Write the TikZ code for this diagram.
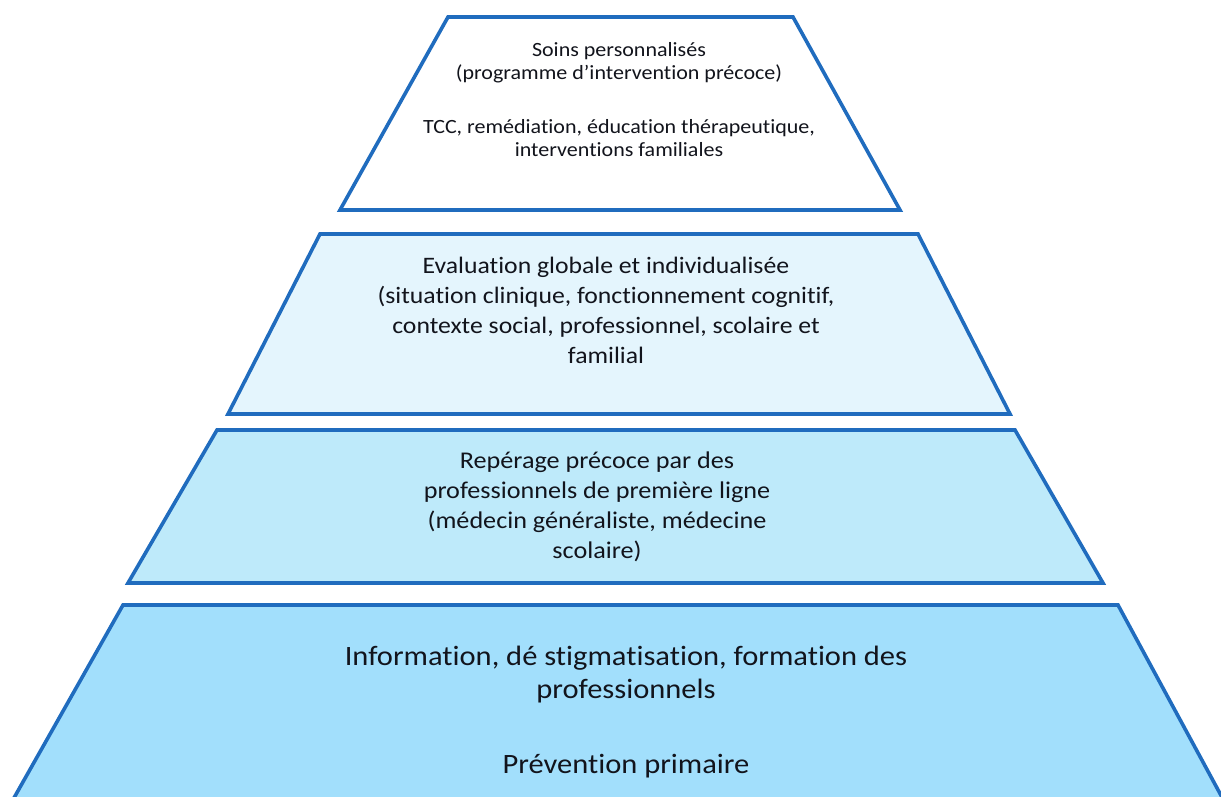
\documentclass[tikz,border=0pt]{standalone}
\usepackage{fontspec}
\setmainfont{Carlito}[Ligatures=NoCommon]
\definecolor{edge}{RGB}{32,108,190}
\definecolor{fillB}{RGB}{228,245,253}
\definecolor{fillC}{RGB}{190,234,250}
\definecolor{fillD}{RGB}{162,223,252}
\definecolor{ink}{RGB}{18,20,28}
\newcommand{\wtext}[1]{\scalebox{1.09}[1]{\begin{tabular}{@{}c@{}}#1\end{tabular}}}
\tikzset{
  tier/.style={draw=edge, line width=3.6pt, line join=miter},
  lbl/.style={align=center, text=ink, inner sep=0pt},
}
\begin{document}
\begin{tikzpicture}[x=1pt,y=-1pt]
\useasboundingbox (0,0) rectangle (1221,796);
\clip (0,0) rectangle (1221,796);
% tier 1
\coordinate (a1) at (448,17); \coordinate (a2) at (793,17);
\coordinate (a3) at (900,210); \coordinate (a4) at (340,210);
\draw[tier, fill=white] (a1) -- (a2) -- (a3) -- (a4) -- cycle;
% tier 2
\coordinate (b1) at (320,234); \coordinate (b2) at (918,234);
\coordinate (b3) at (1010,414); \coordinate (b4) at (228,414);
\draw[tier, fill=fillB] (b1) -- (b2) -- (b3) -- (b4) -- cycle;
% tier 3
\coordinate (c1) at (217,430); \coordinate (c2) at (1015,430);
\coordinate (c3) at (1103,583); \coordinate (c4) at (128,583);
\draw[tier, fill=fillC] (c1) -- (c2) -- (c3) -- (c4) -- cycle;
% tier 4
\coordinate (d1) at (123,605); \coordinate (d2) at (1118,605);
\coordinate (d3) at (1230,812); \coordinate (d4) at (6,812);
\draw[tier, fill=fillD] (d1) -- (d2) -- (d3) -- (d4) -- cycle;

\node[lbl, font=\fontsize{20.2}{23}\selectfont] (t1a) at (619,63) {\wtext{Soins personnalisés\\(programme d’intervention précoce)}};
\node[lbl, font=\fontsize{20.2}{23}\selectfont] (t1b) at (619,140) {\wtext{TCC, remédiation, éducation thérapeutique,\\interventions familiales}};
\node[lbl, font=\fontsize{23.6}{30}\selectfont] (t2) at (606,312) {\wtext{Evaluation globale et individualisée\\(situation clinique, fonctionnement cognitif,\\contexte social, professionnel, scolaire et\\familial}};
\node[lbl, font=\fontsize{24}{30}\selectfont] (t3) at (597,507) {\wtext{Repérage précoce par des\\professionnels de première ligne\\(médecin généraliste, médecine\\scolaire)}};
\node[lbl, font=\fontsize{28}{33}\selectfont] (t4a) at (626,675) {\wtext{Information, dé stigmatisation, formation des\\professionnels}};
\node[lbl, font=\fontsize{28}{33}\selectfont] (t4b) at (626,767) {\wtext{Prévention primaire}};
\end{tikzpicture}
\end{document}
